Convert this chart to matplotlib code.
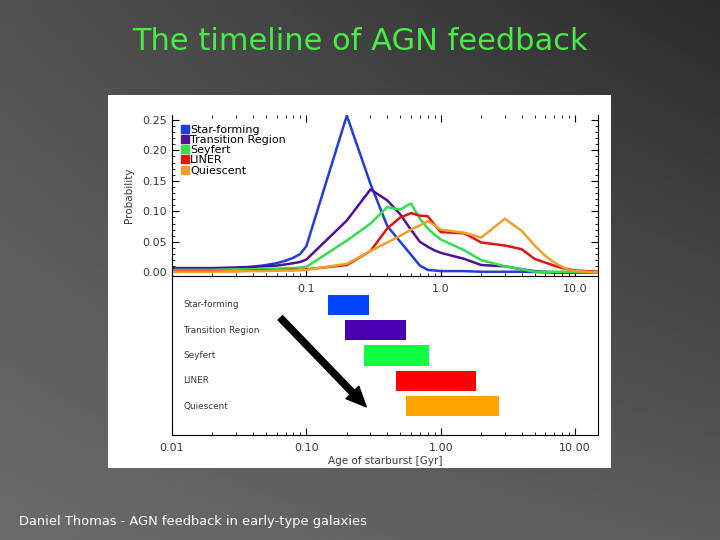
# -*- coding: utf-8 -*-
# agn_timeline.py

'''
Slide: the timeline of AGN feedback. Top panel shows the probability of
starburst age per class, bottom panel shows the age range of each class.
'''

#%% Import packages

import numpy as np
import matplotlib
matplotlib.use('Agg')
import matplotlib.pyplot as plt
from matplotlib.patches import Rectangle
from matplotlib.lines import Line2D
from matplotlib.ticker import MultipleLocator, LogLocator, NullFormatter


#%% Data

classes = ['Star-forming', 'Transition Region', 'Seyfert', 'LINER', 'Quiescent']

# age bins [Gyr]
age = [0.01, 0.02, 0.03, 0.04, 0.05, 0.06, 0.07, 0.08, 0.09, 0.1,
       0.2, 0.3, 0.4, 0.5, 0.6, 0.7, 0.8, 0.9, 1.0, 1.5,
       2.0, 3.0, 4.0, 5.0, 6.0, 7.0, 8.0, 9.0, 10.0, 15.0]

prob_sf = [0.005, 0.006, 0.007, 0.009, 0.012, 0.015, 0.019, 0.024, 0.030, 0.043,
           0.257, 0.145, 0.076, 0.050, 0.029, 0.011, 0.004, 0.003, 0.002, 0.002,
           0.001, 0.001, 0.001, 0.0005, 0.0, 0.0, 0.0, 0.0, 0.0, 0.0]
prob_tr = [0.007, 0.007, 0.008, 0.009, 0.010, 0.011, 0.013, 0.015, 0.017, 0.021,
           0.085, 0.136, 0.118, 0.095, 0.070, 0.050, 0.042, 0.036, 0.032, 0.022,
           0.012, 0.010, 0.005, 0.002, 0.001, 0.0, 0.0, 0.0, 0.0, 0.0]
prob_sy = [0.004, 0.004, 0.005, 0.005, 0.006, 0.006, 0.007, 0.007, 0.008, 0.009,
           0.052, 0.080, 0.107, 0.103, 0.113, 0.088, 0.072, 0.062, 0.054, 0.036,
           0.020, 0.010, 0.005, 0.001, 0.001, 0.001, 0.001, 0.001, 0.001, 0.0]
prob_li = [0.002, 0.002, 0.002, 0.003, 0.003, 0.003, 0.004, 0.004, 0.004, 0.005,
           0.012, 0.035, 0.072, 0.090, 0.097, 0.093, 0.092, 0.078, 0.066, 0.064,
           0.049, 0.044, 0.038, 0.022, 0.016, 0.011, 0.007, 0.005, 0.003, 0.001]
prob_qu = [0.001, 0.001, 0.002, 0.002, 0.002, 0.003, 0.003, 0.003, 0.004, 0.004,
           0.014, 0.035, 0.049, 0.060, 0.070, 0.077, 0.084, 0.077, 0.070, 0.065,
           0.057, 0.088, 0.068, 0.044, 0.027, 0.016, 0.009, 0.004, 0.002, 0.0]

# age ranges [Gyr] for the bottom panel
range_start = [0.145, 0.194, 0.267, 0.467, 0.55]
range_end = [0.29, 0.55, 0.82, 1.84, 2.72]


#%% Style

line_colors = ['#1f3fd6', '#50109e', '#33e04a', '#e01414', '#f0a028']
bar_colors = ['#0044ff', '#4a00b0', '#11ff44', '#ff0000', '#ffa500']
TXT = '#3a3a3a'
XLIM = (0.01, 14.8)


#%% Figure

fig = plt.figure(figsize=(7.2, 5.4), dpi=100)

# slide background gradient
bg = fig.add_axes([0, 0, 1, 1], zorder=-10)
yy, xx = np.mgrid[0:1:200j, 0:1:200j]
tl, tr, bl, br = 0.32, 0.17, 0.42, 0.36
shade = (tl * (1 - xx) * (1 - yy) + tr * xx * (1 - yy)
         + bl * (1 - xx) * yy + br * xx * yy)
bg.imshow(shade, cmap='gray', vmin=0, vmax=1, aspect='auto',
          extent=[0, 1, 1, 0], interpolation='bilinear')
bg.set_xlim(0, 1)
bg.set_ylim(1, 0)
bg.axis('off')

fig.text(0.5, 1 - 42 / 540, 'The timeline of AGN feedback', color='#44ee44',
         fontsize=22, ha='center', va='center')
fig.text(19 / 720, 1 - 521 / 540,
         'Daniel Thomas - AGN feedback in early-type galaxies',
         color='white', fontsize=9.4, ha='left', va='center')

# white plot canvas
fig.patches.append(Rectangle((108 / 720, 1 - 468 / 540), 503 / 720, 373 / 540,
                             transform=fig.transFigure, facecolor='white',
                             edgecolor='none', zorder=-5))

# bottom panel: age ranges
ax2 = fig.add_axes([172 / 720, 1 - 435 / 540, 426 / 720, 159 / 540])
ax2.set_facecolor('none')
rows = np.arange(len(classes), 0, -1)
widths = np.array(range_end) - np.array(range_start)
ax2.barh(rows, widths, left=range_start, height=0.81, color=bar_colors)
for r, name in zip(rows, classes):
    ax2.text(0.026, r, name, transform=ax2.get_yaxis_transform(),
             fontsize=6.4, color=TXT, va='center', ha='left')
ax2.annotate('', xy=(0.279, 0.97), xytext=(0.064, 4.49),
             arrowprops=dict(arrowstyle='simple,head_length=0.9,head_width=0.8,'
                             'tail_width=0.28', mutation_scale=16,
                             color='black', shrinkA=0, shrinkB=0))
ax2.set_xscale('log')
ax2.set_xlim(*XLIM)
ax2.set_ylim(-0.146, 6.146)
ax2.set_yticks([])
ax2.set_xticks([0.01, 0.1, 1, 10], ['0.01', '0.10', '1.00', '10.00'])
ax2.xaxis.set_minor_locator(LogLocator(subs=np.arange(2, 10)))
ax2.xaxis.set_minor_formatter(NullFormatter())
ax2.tick_params(axis='x', which='major', direction='in', length=5,
                labelsize=8, labelcolor=TXT, pad=6)
ax2.tick_params(axis='x', which='minor', direction='in', length=2.5)
ax2.spines['top'].set_visible(False)
ax2.set_xlabel('Age of starburst [Gyr]', fontsize=7.5, color=TXT, labelpad=2)

# top panel: probability curves
ax1 = fig.add_axes([172 / 720, 1 - 276 / 540, 426 / 720, 161 / 540])
ax1.set_facecolor('none')
series = [prob_sf, prob_tr, prob_sy, prob_li, prob_qu]
for vals, c in zip(series, line_colors):
    ax1.plot(age, vals, color=c, linewidth=1.8)
ax1.set_xscale('log')
ax1.set_xlim(*XLIM)
ax1.set_ylim(-0.006, 0.258)
ax1.set_xticks([0.01, 0.1, 1, 10], ['', '0.1', '1.0', '10.0'])
ax1.xaxis.set_minor_locator(LogLocator(subs=np.arange(2, 10)))
ax1.xaxis.set_minor_formatter(NullFormatter())
ax1.set_yticks(np.arange(0, 0.26, 0.05))
ax1.yaxis.set_major_formatter(plt.FuncFormatter(lambda v, p: f'{v:.2f}'))
ax1.yaxis.set_minor_locator(MultipleLocator(0.01))
ax1.tick_params(which='major', direction='in', length=5, top=True,
                right=True, labelsize=8, labelcolor=TXT)
ax1.tick_params(which='minor', direction='in', length=2.5, top=True,
                right=True)
ax1.tick_params(axis='x', which='major', pad=6)
ax1.spines['top'].set_visible(False)
ax1.set_ylabel('Probability', fontsize=7.5, color=TXT, labelpad=6)

handles = [Line2D([], [], linestyle='none', marker='s', markersize=5.5,
                  color=c) for c in line_colors]
ax1.legend(handles, classes, loc='upper left', bbox_to_anchor=(0.022, 0.94),
           frameon=False, fontsize=8, handlelength=0.6, handletextpad=0.2,
           labelspacing=0.02, borderaxespad=0, borderpad=0)

plt.savefig('out.png', dpi=100)
